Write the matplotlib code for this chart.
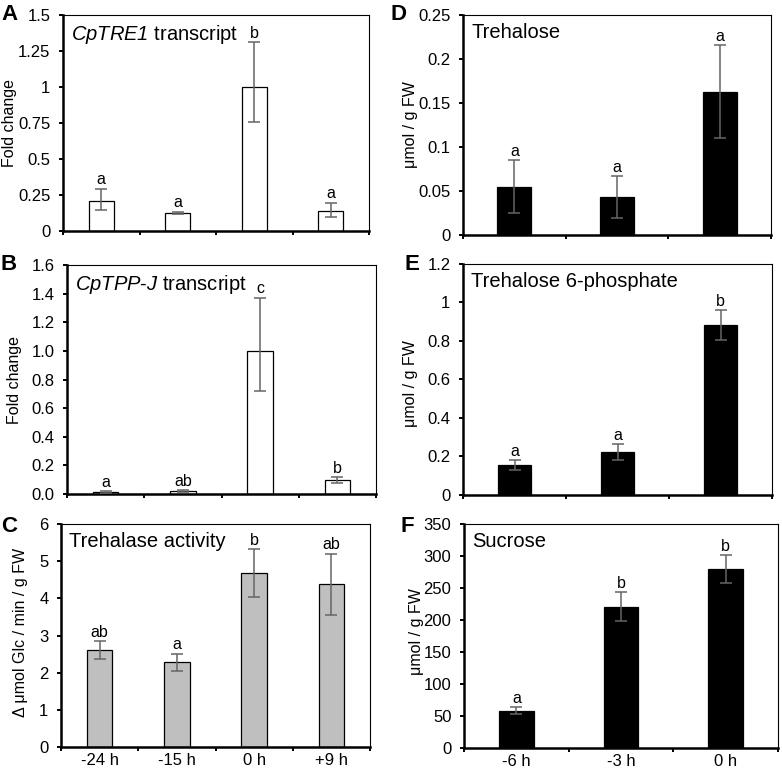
import numpy as np
import matplotlib
matplotlib.use("Agg")
import matplotlib.pyplot as plt

plt.rcParams["font.family"] = ["Liberation Sans", "DejaVu Sans"]
# mathtext is only used for the italic gene names, so keep it all italic
plt.rcParams["mathtext.fontset"] = "custom"
plt.rcParams["mathtext.rm"] = "Liberation Sans:italic"
plt.rcParams["mathtext.it"] = "Liberation Sans:italic"

# ── Data ─────────────────────────────────────────────────────────────────────
times_left = ["-24 h", "-15 h", "0 h", "+9 h"]
times_right = ["-6 h", "-3 h", "0 h"]

tre1_mean = [0.21, 0.127, 1.0, 0.141]
tre1_lo = [0.064, 0.007, 0.24, 0.042]
tre1_hi = [0.083, 0.007, 0.31, 0.055]
tre1_sig = ["a", "a", "b", "a"]

tppj_mean = [0.015, 0.02, 1.0, 0.096]
tppj_lo = [0.005, 0.006, 0.28, 0.019]
tppj_hi = [0.005, 0.008, 0.372, 0.023]
tppj_sig = ["a", "ab", "c", "b"]

trehalase_mean = [2.61, 2.28, 4.68, 4.38]
trehalase_err = [0.24, 0.23, 0.64, 0.82]
trehalase_sig = ["ab", "a", "b", "ab"]

trehalose_mean = [0.055, 0.043, 0.163]
trehalose_err = [0.03, 0.024, 0.053]
trehalose_sig = ["a", "a", "a"]

t6p_mean = [0.156, 0.222, 0.883]
t6p_err = [0.024, 0.042, 0.077]
t6p_sig = ["a", "a", "b"]

sucrose_mean = [58.5, 221, 279.5]
sucrose_err = [5.5, 22, 21.5]
sucrose_sig = ["a", "b", "b"]

W, H = 782, 772


def px_rect(l, t, r, b):
    return [l / W, 1 - b / H, (r - l) / W, (b - t) / H]


def panel(ax, means, lo, hi, sig, color, ylim, yticks, ylabels, title, xlabels=None):
    n = len(means)
    x = np.arange(n)
    ax.bar(x, means, width=0.33, color=color, edgecolor="black", linewidth=0.9, zorder=2)
    ax.errorbar(x, means, yerr=[lo, hi], fmt="none", ecolor="#656565",
                elinewidth=1.1, capsize=4, capthick=1.1, zorder=3)
    for xi, m, h, s in zip(x, means, hi, sig):
        ax.annotate(s, (xi, m + h), xytext=(0, 1), textcoords="offset points",
                    ha="center", va="bottom", fontsize=11.5)

    ax.set_xlim(-0.5, n - 0.5)
    ax.set_ylim(*ylim)
    ax.set_xticks(np.arange(n + 1) - 0.5)
    ax.set_xticklabels([])
    ax.set_xticks(x, minor=True)
    if xlabels:
        ax.set_xticklabels(xlabels, minor=True)
    ax.tick_params(axis="x", which="minor", length=0, labelsize=12, pad=4)
    ax.set_yticks(yticks)
    ax.set_yticklabels(ylabels)
    ax.tick_params(axis="both", which="major", direction="out", length=3,
                   width=1.4, labelsize=12, pad=6)

    for side in ("left", "bottom"):
        ax.spines[side].set_linewidth(1.8)
    for side in ("top", "right"):
        ax.spines[side].set_linewidth(0.8)

    ax.annotate(title, (0, 1), xycoords="axes fraction", xytext=(6, -6),
                textcoords="offset points", ha="left", va="top", fontsize=14.5)


fig = plt.figure(figsize=(W / 100, H / 100), dpi=100)
fig.patch.set_facecolor("white")

axA = fig.add_axes(px_rect(63, 15, 369, 231))
panel(axA, tre1_mean, tre1_lo, tre1_hi, tre1_sig, "white", (0, 1.5),
      [0, 0.25, 0.5, 0.75, 1, 1.25, 1.5],
      ["0", "0.25", "0.5", "0.75", "1", "1.25", "1.5"],
      r"$CpTRE1$ transcript")

axB = fig.add_axes(px_rect(67, 265, 376, 494))
panel(axB, tppj_mean, tppj_lo, tppj_hi, tppj_sig, "white", (0, 1.6),
      np.arange(0, 1.61, 0.2),
      ["0.0", "0.2", "0.4", "0.6", "0.8", "1.0", "1.2", "1.4", "1.6"],
      r"$CpTPP$-$J$ transcript")

axC = fig.add_axes(px_rect(61, 524, 370, 747))
panel(axC, trehalase_mean, trehalase_err, trehalase_err, trehalase_sig, "#bfbfbf",
      (0, 6), range(0, 7), [str(v) for v in range(0, 7)],
      "Trehalase activity", times_left)

axD = fig.add_axes(px_rect(463, 15, 771, 235))
panel(axD, trehalose_mean, trehalose_err, trehalose_err, trehalose_sig, "black",
      (0, 0.25), [0, 0.05, 0.1, 0.15, 0.2, 0.25],
      ["0", "0.05", "0.1", "0.15", "0.2", "0.25"], "Trehalose")

axE = fig.add_axes(px_rect(463, 264, 772, 495))
panel(axE, t6p_mean, t6p_err, t6p_err, t6p_sig, "black",
      (0, 1.2), [0, 0.2, 0.4, 0.6, 0.8, 1, 1.2],
      ["0", "0.2", "0.4", "0.6", "0.8", "1", "1.2"], "Trehalose 6-phosphate")

axF = fig.add_axes(px_rect(464, 524, 778, 748))
panel(axF, sucrose_mean, sucrose_err, sucrose_err, sucrose_sig, "black",
      (0, 350), range(0, 351, 50), [str(v) for v in range(0, 351, 50)],
      "Sucrose", times_right)

# y-axis labels
ylab = [
    (10, 123, "Fold change"),
    (15, 380, "Fold change"),
    (21, 632, "Δ μmol Glc / min / g FW"),
    (410, 125, "μmol / g FW"),
    (410, 384, "μmol / g FW"),
    (417, 632, "μmol / g FW"),
]
for xp, yp, s in ylab:
    fig.text(xp / W, 1 - yp / H, s, rotation=90, ha="center", va="center", fontsize=11.5)

# panel letters
letters = [(1, 15, "A"), (1, 265, "B"), (1, 527, "C"),
           (390, 15, "D"), (405, 265, "E"), (401, 527, "F")]
for xp, yp, s in letters:
    fig.text(xp / W, 1 - yp / H, s, ha="left", va="center", fontsize=16, fontweight="bold")

fig.savefig("out.png", dpi=100, facecolor="white")
